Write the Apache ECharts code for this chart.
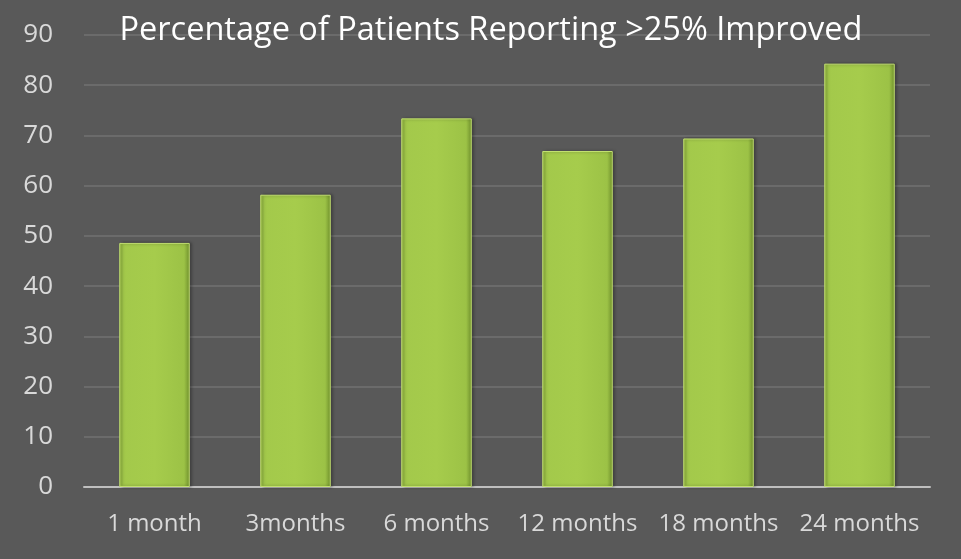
<!DOCTYPE html>
<html>
<head>
<meta charset="utf-8">
<script src="https://cdn.jsdelivr.net/npm/echarts@6/dist/echarts.min.js"></script>
<style>
html,body{margin:0;padding:0;background:#595959;}
#c{width:961px;height:559px;}
</style>
</head>
<body>
<div id="c"></div>
<script>
const titleText = 'Percentage of Patients Reporting >25% Improved';
const categories = ['1 month', '3months', '6 months', '12 months', '18 months', '24 months'];
const values = [48.6, 58.2, 73.4, 66.9, 69.4, 84.3];
const yTicks = [0, 10, 20, 30, 40, 50, 60, 70, 80, 90];

const chart = echarts.init(document.getElementById('c'));
const barGrad = new echarts.graphic.LinearGradient(0, 0, 1, 0, [
  {offset: 0, color: '#8fb43f'},
  {offset: 0.06, color: '#a3c94b'},
  {offset: 0.5, color: '#a6cc4c'},
  {offset: 0.92, color: '#9cc246'},
  {offset: 1, color: '#6f8f2c'}
]);
chart.setOption({
  backgroundColor: '#595959',
  animation: false,
  title: {
    text: titleText,
    left: 486, top: 9, textAlign: 'center',
    textStyle: {color: '#ffffff', fontFamily: 'Open Sans', fontWeight: 'normal', fontSize: 32.5}
  },
  grid: {left: 84, right: 31, top: 35, bottom: 72},
  xAxis: {
    type: 'category',
    data: categories,
    axisLine: {lineStyle: {color: '#bfbfbf', width: 2}},
    axisTick: {show: false},
    axisLabel: {color: '#d9d9d9', fontFamily: 'Open Sans', fontSize: 24, margin: 25, interval: 0, hideOverlap: false}
  },
  yAxis: {
    type: 'value',
    min: yTicks[0], max: yTicks[yTicks.length - 1], interval: 10,
    axisLine: {show: false},
    axisTick: {show: false},
    splitLine: {lineStyle: {color: '#6b6b6b', width: 2}},
    axisLabel: {color: '#d9d9d9', fontFamily: 'Open Sans', fontSize: 26, margin: 31}
  },
  series: [{
    type: 'bar',
    data: values,
    barWidth: '50%',
    itemStyle: {
      color: barGrad,
      borderColor: '#c2e070',
      borderWidth: 1,
      shadowColor: 'rgba(0,0,0,0.35)',
      shadowBlur: 3,
      shadowOffsetX: 2
    }
  }]
});
</script>
</body>
</html>
